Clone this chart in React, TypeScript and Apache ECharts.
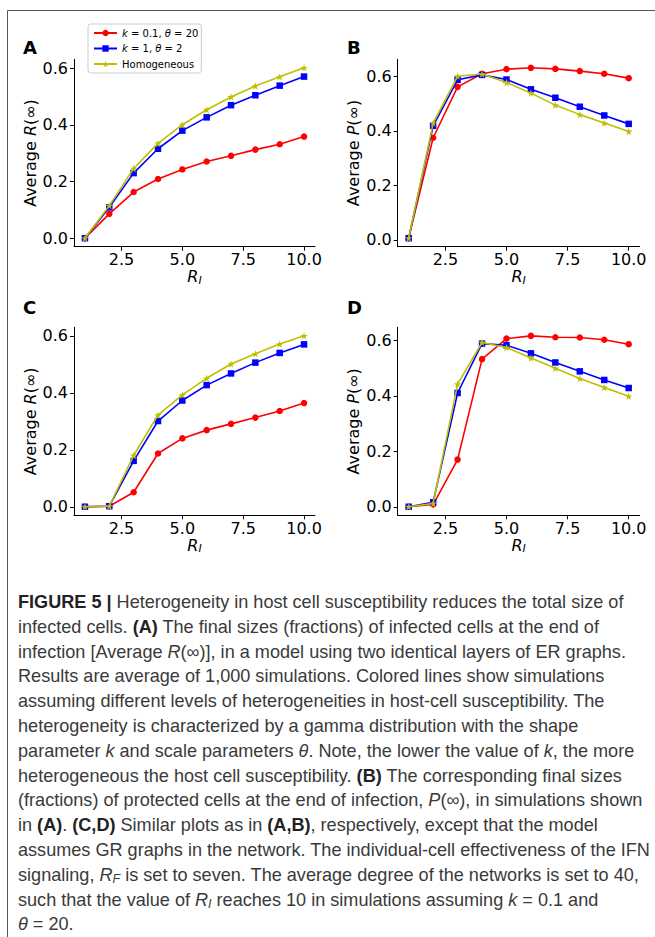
import React, { useEffect, useRef } from "react";
import * as echarts from "echarts";

const X = [1, 2, 3, 4, 5, 6, 7, 8, 9, 10];
const SERIES_NAMES = ["k = 0.1, θ = 20", "k = 1, θ = 2", "Homogeneous"];
const COLORS = ["#ff0000", "#0000ff", "#bfbf00"];
const X_TICKS = [2.5, 5.0, 7.5, 10.0];
const Y_TICKS = [0.0, 0.2, 0.4, 0.6];
const PANEL_LABELS = ["A", "B", "C", "D"];

const A_RED = [0, 0.086, 0.163, 0.209, 0.243, 0.271, 0.291, 0.313, 0.332, 0.359];
const A_BLUE = [0, 0.109, 0.23, 0.316, 0.38, 0.427, 0.47, 0.505, 0.539, 0.571];
const A_YEL = [0, 0.115, 0.246, 0.335, 0.401, 0.454, 0.499, 0.538, 0.57, 0.602];
const B_RED = [0.006, 0.375, 0.562, 0.61, 0.627, 0.632, 0.628, 0.62, 0.61, 0.594];
const B_BLUE = [0.006, 0.419, 0.588, 0.606, 0.589, 0.553, 0.522, 0.489, 0.457, 0.426];
const B_YEL = [0.006, 0.429, 0.601, 0.609, 0.578, 0.539, 0.495, 0.46, 0.429, 0.398];
const C_RED = [0, 0.002, 0.051, 0.187, 0.24, 0.269, 0.291, 0.313, 0.336, 0.364];
const C_BLUE = [0, 0.002, 0.161, 0.301, 0.373, 0.427, 0.468, 0.506, 0.54, 0.57];
const C_YEL = [0, 0.002, 0.18, 0.322, 0.393, 0.451, 0.501, 0.537, 0.571, 0.6];
const D_RED = [0, 0.008, 0.17, 0.532, 0.606, 0.616, 0.611, 0.61, 0.602, 0.586];
const D_BLUE = [0, 0.016, 0.41, 0.588, 0.582, 0.553, 0.52, 0.488, 0.457, 0.428];
const D_YEL = [0, 0.012, 0.442, 0.592, 0.574, 0.536, 0.499, 0.462, 0.43, 0.398];

const PANELS = [
  [A_RED, A_BLUE, A_YEL],
  [B_RED, B_BLUE, B_YEL],
  [C_RED, C_BLUE, C_YEL],
  [D_RED, D_BLUE, D_YEL],
];
const Y_TITLES = ["R", "P", "R", "P"];

const CAPTION_LINES = [
  "{b|FIGURE 5 |} Heterogeneity in host cell susceptibility reduces the total size of",
  "infected cells. {b|(A)} The final sizes (fractions) of infected cells at the end of",
  "infection [Average {i|R}(∞)], in a model using two identical layers of ER graphs.",
  "Results are average of 1,000 simulations. Colored lines show simulations",
  "assuming different levels of heterogeneities in host-cell susceptibility. The",
  "heterogeneity is characterized by a gamma distribution with the shape",
  "parameter {i|k} and scale parameters {i|θ}. Note, the lower the value of {i|k}, the more",
  "heterogeneous the host cell susceptibility. {b|(B)} The corresponding final sizes",
  "(fractions) of protected cells at the end of infection, {i|P}(∞), in simulations shown",
  "in {b|(A)}. {b|(C,D)} Similar plots as in {b|(A,B)}, respectively, except that the model",
  "assumes GR graphs in the network. The individual-cell effectiveness of the IFN",
  "signaling, {i|R}{sub|F} is set to seven. The average degree of the networks is set to 40,",
  "such that the value of {i|R}{sub|I} reaches 10 in simulations assuming {i|k} = 0.1 and",
  "{i|θ} = 20.",
];

const STAR = "path://M50,0 L61.2,34.5 L97.6,34.5 L68.2,55.9 L79.4,90.5 L50,69.1 L20.6,90.5 L31.8,55.9 L2.4,34.5 L38.8,34.5 Z";
const SYMBOLS = ["circle", "rect", STAR];
const SYMBOL_SIZES = [6.5, 6.5, 7.5];

const FONT = "DejaVu Sans";
const CAP_FONT = "Liberation Sans";
const CAP_SIZE = 18.1;

const GRIDS = [
  { left: 74, top: 59.3, width: 241, height: 187.4 },
  { left: 397.7, top: 59.3, width: 242, height: 187.4 },
  { left: 74, top: 327.3, width: 241, height: 188 },
  { left: 397.7, top: 327.3, width: 242, height: 188 },
];
const LABEL_POS = [
  [23, 47],
  [347, 47],
  [23, 307],
  [347, 307],
];

function range(arrs: number[][]) {
  const all = arrs.flat();
  const mn = Math.min(...all);
  const mx = Math.max(...all);
  const pad = (mx - mn) * 0.05;
  return [mn - pad, mx + pad];
}

function buildOption() {
  const xPad = (X[X.length - 1] - X[0]) * 0.05;
  const grid = GRIDS.map((g) => ({ ...g, containLabel: false, outerBoundsMode: "none" }));
  const xAxis = PANELS.map((_, p) => ({
    type: "value",
    gridIndex: p,
    min: X[0] - xPad,
    max: X[X.length - 1] + xPad,
    splitLine: { show: false },
    axisLine: { show: true, onZero: false, lineStyle: { color: "#000", width: 1 } },
    axisTick: { show: true, length: 4, customValues: X_TICKS, lineStyle: { color: "#000" } },
    axisLabel: {
      customValues: X_TICKS,
      formatter: (v: number) => v.toFixed(1),
      fontFamily: FONT,
      fontSize: 16,
      color: "#000",
      margin: 5,
    },
    name: "{r|R}{s|I}",
    nameLocation: "middle",
    nameGap: 20,
    nameTextStyle: {
      rich: {
        r: { fontFamily: FONT, fontStyle: "italic", fontSize: 16, color: "#000" },
        s: { fontFamily: FONT, fontStyle: "italic", fontSize: 11, color: "#000", padding: [7, 0, 0, 0] },
      },
    },
  }));
  const yAxis = PANELS.map((arrs, p) => {
    const [mn, mx] = range(arrs);
    return {
      type: "value",
      gridIndex: p,
      min: mn,
      max: mx,
      splitLine: { show: false },
      axisLine: { show: true, onZero: false, lineStyle: { color: "#000", width: 1 } },
      axisTick: { show: true, length: 4, customValues: Y_TICKS, lineStyle: { color: "#000" } },
      axisLabel: {
        customValues: Y_TICKS,
        formatter: (v: number) => v.toFixed(1),
        fontFamily: FONT,
        fontSize: 16,
        color: "#000",
        margin: 6,
      },
      name: `{n|Average }{i|${Y_TITLES[p]}}{n|(∞)}`,
      nameLocation: "middle",
      nameRotate: 90,
      nameGap: 36,
      nameTextStyle: {
        rich: {
          n: { fontFamily: FONT, fontSize: 16, color: "#000" },
          i: { fontFamily: FONT, fontSize: 16, fontStyle: "italic", color: "#000" },
        },
      },
    };
  });
  const series: any[] = [];
  PANELS.forEach((arrs, p) => {
    arrs.forEach((arr, c) => {
      series.push({
        type: "line",
        name: SERIES_NAMES[c],
        xAxisIndex: p,
        yAxisIndex: p,
        data: X.map((x, i) => [x, arr[i]]),
        symbol: SYMBOLS[c],
        symbolSize: SYMBOL_SIZES[c],
        showAllSymbol: true,
        itemStyle: { color: COLORS[c] },
        lineStyle: { color: COLORS[c], width: 1.6 },
        z: 2 + c,
        silent: true,
      });
    });
  });
  const graphic: any[] = [
    { type: "line", shape: { x1: 7.5, y1: 10.5, x2: 655, y2: 10.5 }, style: { stroke: "#555", lineWidth: 1 } },
    { type: "line", shape: { x1: 7.5, y1: 10.5, x2: 7.5, y2: 937 }, style: { stroke: "#555", lineWidth: 1 } },
  ];
  PANEL_LABELS.forEach((t, i) => {
    graphic.push({
      type: "text",
      x: LABEL_POS[i][0],
      y: LABEL_POS[i][1],
      style: { text: t, fontFamily: FONT, fontWeight: "bold", fontSize: 18, fill: "#000", align: "left", verticalAlign: "middle" },
    });
  });
  CAPTION_LINES.forEach((line, i) => {
    graphic.push({
      type: "text",
      x: 18,
      y: 602 + i * 24.8,
      style: {
        text: line,
        fontFamily: CAP_FONT,
        fontSize: CAP_SIZE,
        fill: "#3a3a3a",
        align: "left",
        verticalAlign: "middle",
        rich: {
          b: { fontFamily: CAP_FONT, fontSize: CAP_SIZE, fontWeight: "bold", fill: "#222" },
          i: { fontFamily: CAP_FONT, fontSize: CAP_SIZE, fontStyle: "italic", fill: "#3a3a3a" },
          sub: { fontFamily: CAP_FONT, fontSize: 12.5, fontStyle: "italic", fill: "#3a3a3a", padding: [8, 0, 0, 0] },
        },
      },
    });
  });
  return {
    animation: false,
    backgroundColor: "#fff",
    grid,
    xAxis,
    yAxis,
    series,
    legend: {
      show: true,
      data: SERIES_NAMES,
      orient: "vertical",
      left: 88,
      top: 24,
      padding: [3, 3, 3, 5],
      itemGap: 3.5,
      itemWidth: 23,
      itemHeight: 8,
      backgroundColor: "#fff",
      borderColor: "#ccc",
      borderWidth: 1,
      borderRadius: 3,
      selectedMode: false,
      formatter: (name: string) =>
        name === "Homogeneous"
          ? `{n|${name}}`
          : name.replace(/^k/, "{i|k}").replace("θ", "{i|θ}").replace(/( = [0-9.]+)(,?)/g, "{n|$1$2}").replace(/\}(,? )\{/g, "}{n|$1}{"),
      textStyle: {
        fontFamily: FONT,
        fontSize: 10,
        color: "#000",
        lineHeight: 12,
        rich: {
          n: { fontFamily: FONT, fontSize: 10, color: "#000" },
          i: { fontFamily: FONT, fontSize: 10, fontStyle: "italic", color: "#000" },
        },
      },
    },
    graphic,
  };
}

export default function App() {
  const ref = useRef<HTMLDivElement>(null);
  useEffect(() => {
    document.body.style.margin = "0";
    const chart = echarts.init(ref.current!, null, { renderer: "svg" });
    chart.setOption(buildOption() as any);
    return () => chart.dispose();
  }, []);
  return <div ref={ref} style={{ width: 655, height: 937 }} />;
}
